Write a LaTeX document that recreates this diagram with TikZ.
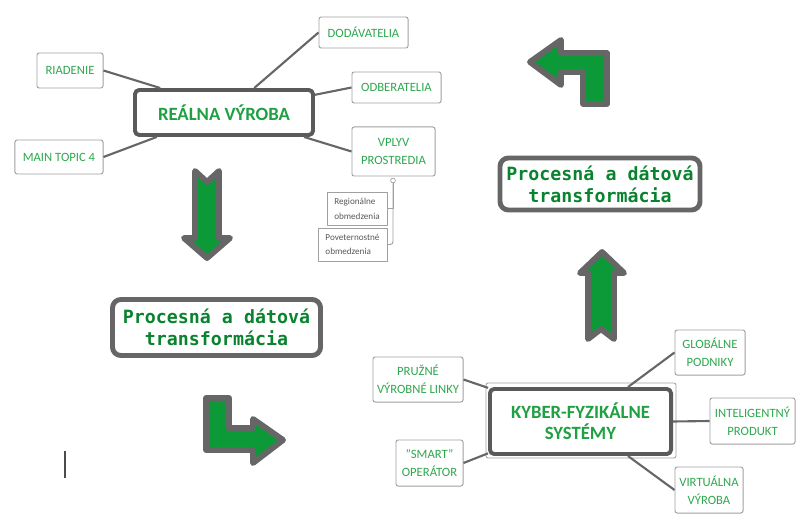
\documentclass[tikz,border=0pt]{standalone}
\usepackage{fontspec}
\setmainfont{Carlito}
\newfontfamily\monofont{DejaVu Sans Mono}
\usepackage{xcolor}
\usepackage{tikz}
\usetikzlibrary{calc,positioning}
\definecolor{lblgreen}{HTML}{2FA84F}
\definecolor{topgreen}{HTML}{1FA043}
\definecolor{arrgreen}{HTML}{0B9A37}
\definecolor{arrgray}{HTML}{666666}
\definecolor{boxgray}{HTML}{5A5A5A}
\definecolor{leafgray}{HTML}{A0A0A0}

\begin{document}
\begin{tikzpicture}[x=0.025cm,y=-0.025cm, line join=round,
  leaf/.style={draw=leafgray, line width=0.7pt, rounded corners=1.5pt, fill=white, inner sep=0pt, align=center, text=lblgreen, font=\fontsize{9}{12.5}\selectfont},
  note/.style={draw=leafgray, line width=0.7pt, fill=white, inner sep=0pt, align=left, text=black!65, font=\fontsize{6.5}{10.5}\selectfont},
  topic/.style={draw=boxgray, line width=2.8pt, rounded corners=3pt, fill=white, inner sep=0pt, align=center, text=topgreen, font=\fontsize{13.3}{15}\selectfont\bfseries},
  proc/.style={draw=arrgray, line width=3.5pt, rounded corners=6pt, fill=white, inner sep=0pt, align=center, text=arrgreen!85!black, font=\monofont\fontsize{13}{15.4}\selectfont\bfseries},
  link/.style={draw=arrgray, line width=1.5pt},
  arr/.style={draw=arrgray, fill=arrgreen, line width=4.2pt}]
\useasboundingbox (0,0) rectangle (800,524);

% real production
\node[topic, minimum width=4.45cm, minimum height=1.125cm] (rv) at (224,112.5) {RE\'ALNA V\'YROBA};
\node[leaf, minimum width=2.225cm, minimum height=0.775cm] (dod) at (363.5,32.5) {DOD\'AVATELIA};
\node[leaf, minimum width=1.65cm, minimum height=0.875cm] (riad) at (70,70.5) {RIADENIE};
\node[leaf, minimum width=2.225cm, minimum height=0.775cm] (odb) at (396.5,87.5) {ODBERATELIA};
\node[leaf, minimum width=2.075cm, minimum height=1.225cm] (vplyv) at (393.5,151.5) {VPLYV\\PROSTREDIA};
\node[leaf, minimum width=2.2cm, minimum height=0.85cm] (mt) at (59,157) {MAIN TOPIC 4};
\node[note, minimum width=1.5cm, minimum height=0.825cm] (reg) at (357,208.5) {Region\'alne\\obmedzenia};
\node[note, minimum width=1.725cm, minimum height=0.825cm] (pov) at (352.5,244.5) {Poveternostn\'e\\obmedzenia};
\node[draw=leafgray, fill=white, circle, inner sep=0pt, minimum size=0.12cm, line width=0.5pt] (knob) at (393,180.5) {};

\draw[link] (riad.east) -- (rv.159);
\draw[link] (mt.east) -- (rv.200);
\draw[link] (dod.west) -- (rv.39);
\draw[link] (odb.west) -- (rv.11);
\draw[link] (vplyv.west) -- (rv.343);
\draw[leafgray, line width=0.7pt] (knob.south) |- (reg.east);
\draw[leafgray, line width=0.7pt, rounded corners=2pt] (knob.south) |- (pov.east);

% transformations
\node[proc, minimum width=5.2cm, minimum height=1.4cm] (ptl) at (216.5,327.5) {Procesn\'a a d\'atov\'a\\transform\'acia};
\node[proc, minimum width=5.0cm, minimum height=1.3cm] (ptr) at (600,184) {Procesn\'a a d\'atov\'a\\transform\'acia};

% cyber-physical systems
\node[draw=leafgray, line width=0.6pt, rounded corners=1.5pt, minimum width=4.75cm, minimum height=1.875cm] (kfsframe) at (581,420.5) {};
\node[topic, minimum width=4.525cm, minimum height=1.625cm] (kfs) at (580.5,421.5) {KYBER-FYZIK\'ALNE\\SYST\'EMY};
\node[leaf, minimum width=2.25cm, minimum height=1.125cm] (prl) at (418,379.5) {PRU\v{Z}N\'E\\V\'YROBN\'E LINKY};
\node[leaf, minimum width=1.675cm, minimum height=1.15cm] (smart) at (429.5,463) {\symbol{34}SMART\symbol{34}\\OPER\'ATOR};
\node[leaf, minimum width=1.75cm, minimum height=1.125cm] (glob) at (710,352.5) {GLOB\'ALNE\\PODNIKY};
\node[leaf, minimum width=2.125cm, minimum height=1.15cm] (intel) at (752.5,421) {INTELIGENTN\'Y\\PRODUKT};
\node[leaf, minimum width=1.7cm, minimum height=1.15cm] (virt) at (709,490) {VIRTU\'ALNA\\V\'YROBA};

\draw[link] (prl.east) -- (kfs.160);
\draw[link] (smart.east) -- (kfs.199);
\draw[link] (glob.west) -- (kfs.36);
\draw[link] (intel.west) -- (kfs.east);
\draw[link] (virt.west) -- (kfs.324);

% arrows
\draw[arr] (195,171) -- (207,182) -- (219,171) -- (219,238) -- (230,238) -- (207,258) -- (184,238) -- (195,238) -- cycle;
\draw[arr] (206,398) -- (229,398) -- (229,428) -- (253,428) -- (253,419) -- (283,440) -- (253,463) -- (253,450) -- (206,450) -- cycle;
\draw[arr] (602,252) -- (624,273) -- (614,273) -- (614,339) -- (601,329) -- (588,339) -- (588,273) -- (580,273) -- cycle;
\draw[arr] (530,62) -- (561,40) -- (561,53) -- (607,53) -- (607,104) -- (583,104) -- (583,72) -- (561,72) -- (561,85) -- cycle;

% cursor
\draw[black!70, line width=1pt] (65,451) -- (65,478);
\end{tikzpicture}
\end{document}
